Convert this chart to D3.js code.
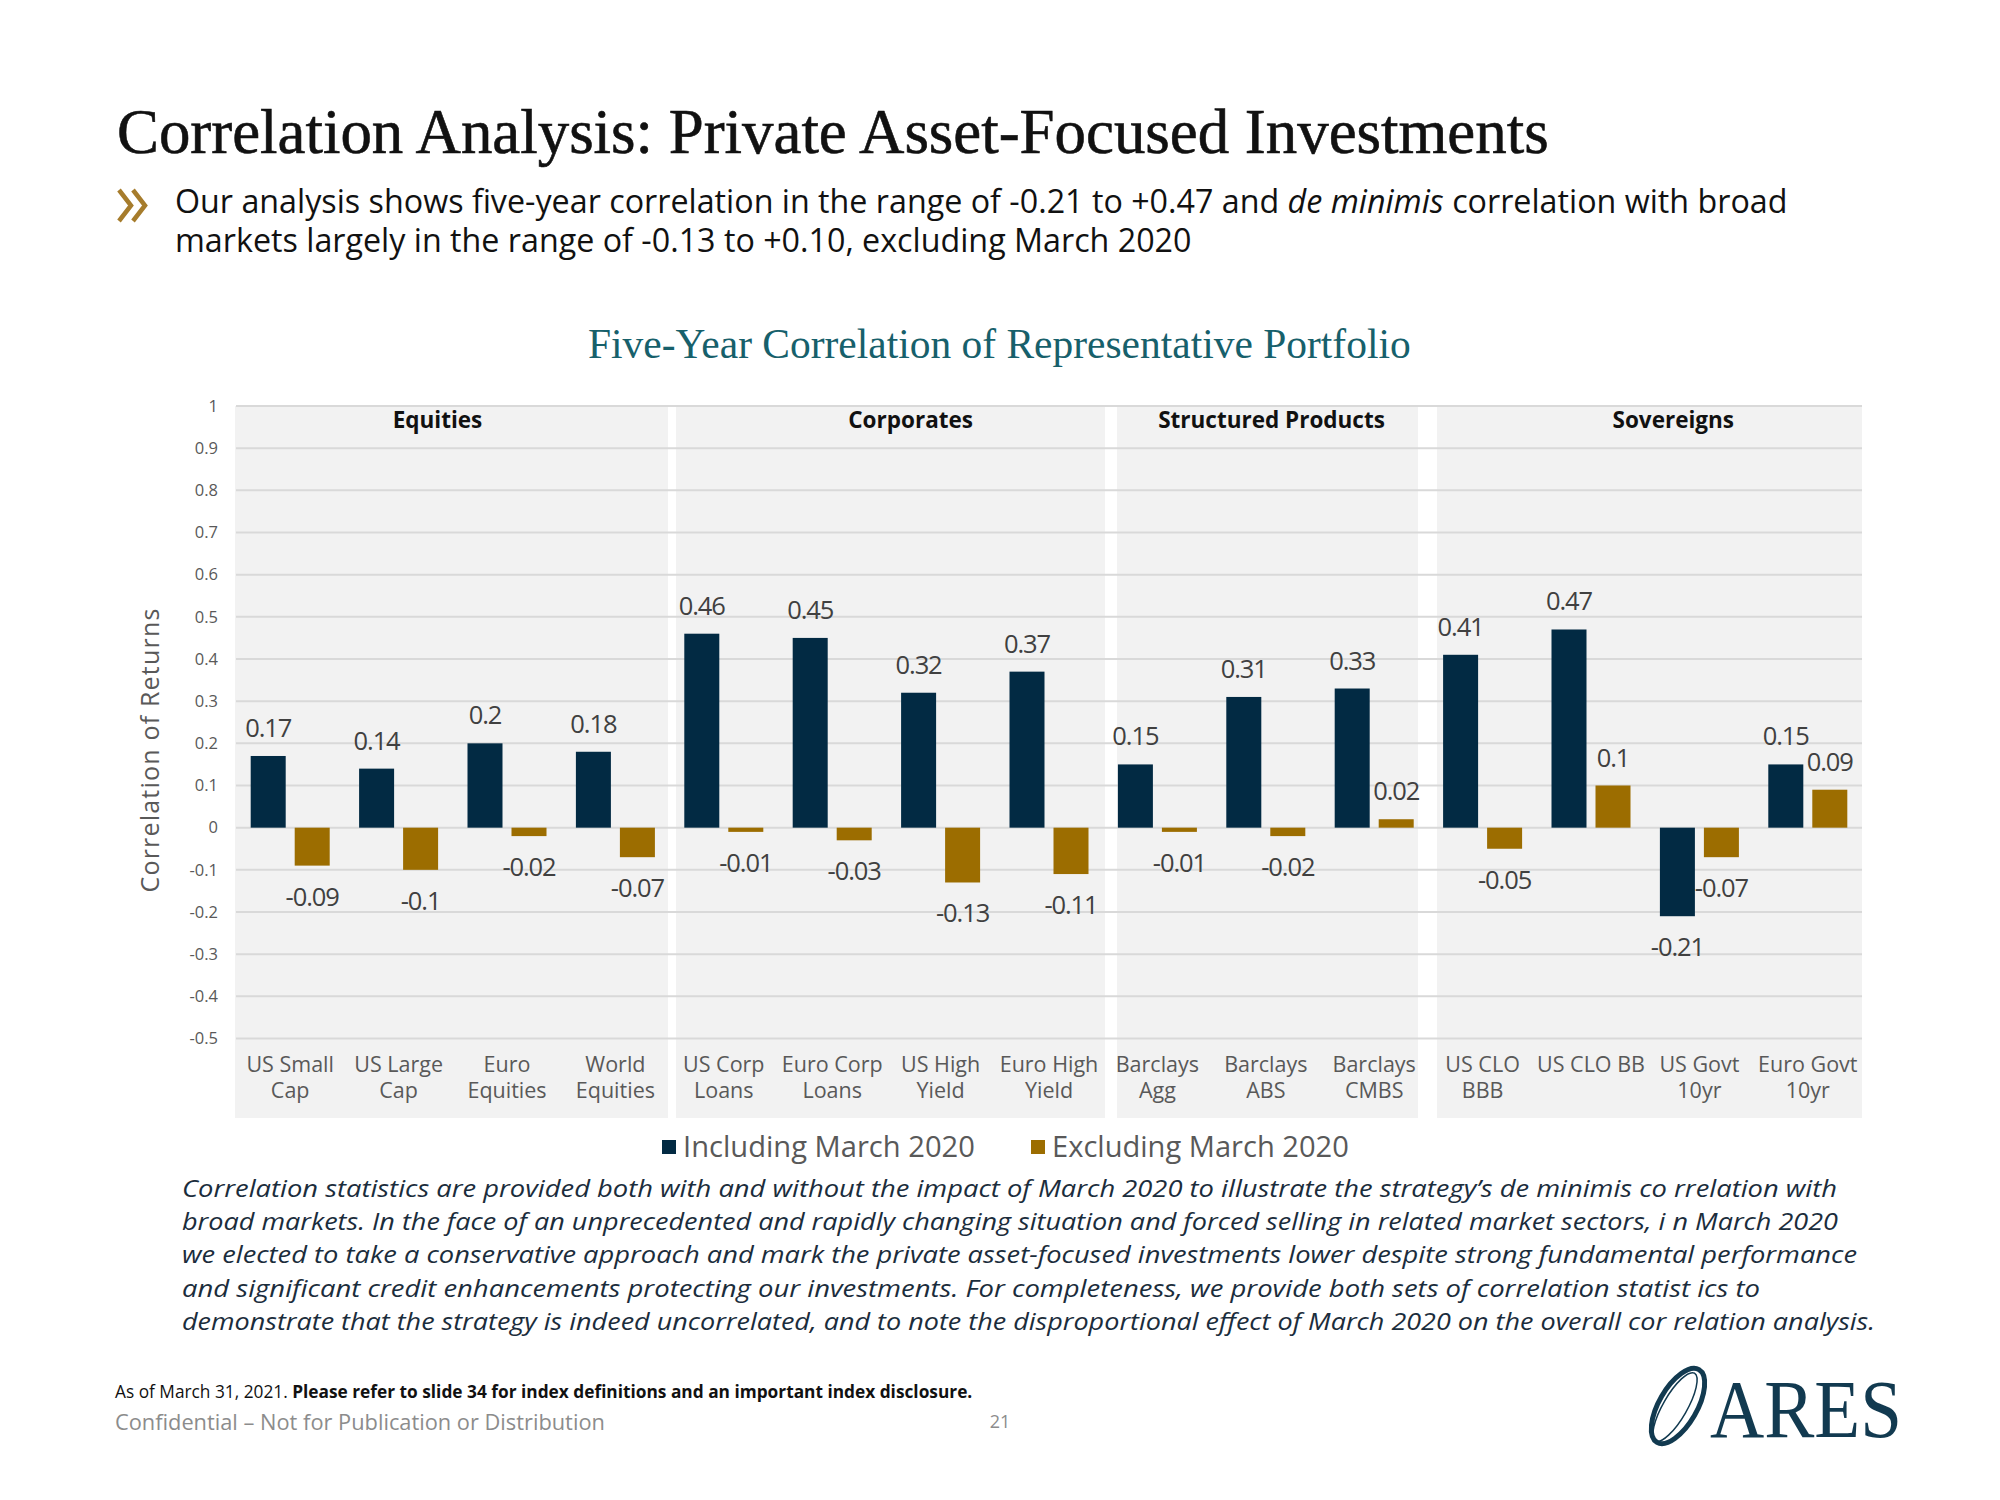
<!DOCTYPE html>
<html>
<head>
<meta charset="utf-8">
<script src="https://cdn.jsdelivr.net/npm/d3@7"></script>
<style>
  html, body { margin: 0; padding: 0; background: #ffffff; }
  svg { display: block; }
</style>
</head>
<body>
<svg id="chart" width="2000" height="1500"></svg>
<script>
// ---------------- DATA ----------------
const categories = [
  "US Small\nCap", "US Large\nCap", "Euro\nEquities", "World\nEquities",
  "US Corp\nLoans", "Euro Corp\nLoans", "US High\nYield", "Euro High\nYield",
  "Barclays\nAgg", "Barclays\nABS", "Barclays\nCMBS",
  "US CLO\nBBB", "US CLO BB", "US Govt\n10yr", "Euro Govt\n10yr"
];
const includingMarch2020 = [0.17, 0.14, 0.2, 0.18, 0.46, 0.45, 0.32, 0.37, 0.15, 0.31, 0.33, 0.41, 0.47, -0.21, 0.15];
const excludingMarch2020 = [-0.09, -0.1, -0.02, -0.07, -0.01, -0.03, -0.13, -0.11, -0.01, -0.02, 0.02, -0.05, 0.1, -0.07, 0.09];
const seriesNames = ["Including March 2020", "Excluding March 2020"];
const groupNames = ["Equities", "Corporates", "Structured Products", "Sovereigns"];
const groupSizes = [4, 4, 3, 4];
const yTicks = [-0.5, -0.4, -0.3, -0.2, -0.1, 0, 0.1, 0.2, 0.3, 0.4, 0.5, 0.6, 0.7, 0.8, 0.9, 1];

const titleText = "Correlation Analysis: Private Asset-Focused Investments";
const chartTitle = "Five-Year Correlation of Representative Portfolio";
const yAxisTitle = "Correlation of Returns";
const noteLines = [
  "Correlation statistics are provided both with and without the impact of March 2020 to illustrate the strategy\u2019s de minimis co rrelation with",
  "broad markets. In the face of an unprecedented and rapidly changing situation and forced selling in related market sectors, i n March 2020",
  "we elected to take a conservative approach and mark the private asset-focused investments lower despite strong fundamental performance",
  "and significant credit enhancements protecting our investments. For completeness, we provide both sets of correlation statist ics to",
  "demonstrate that the strategy is indeed uncorrelated, and to note the disproportional effect of March 2020 on the overall cor relation analysis."
];

// ---------------- STYLE ----------------
const NAVY = "#022a43";
const GOLD = "#9c6d00";
const GRID = "#d9d9d9";
const PANEL = "#f2f2f2";
const AXIS_TEXT = "#595959";
const LABEL_TEXT = "#404040";
const SANS = "'Open Sans', 'DejaVu Sans', sans-serif";
const SERIF = "'Liberation Serif', 'DejaVu Serif', serif";

const svg = d3.select("#chart");

function fitWidth(sel, target) {
  const node = sel.node();
  const fs = parseFloat(sel.attr("font-size"));
  const L = node.getComputedTextLength();
  const nfs = fs * target / L;
  sel.attr("font-size", nfs);
  return nfs;
}

// ---------------- HEADER ----------------
const t = svg.append("text")
  .attr("x", 117).attr("y", 153)
  .attr("font-family", SERIF).attr("font-size", 58)
  .attr("fill", "#111111")
  .attr("stroke", "#111111").attr("stroke-width", 0.6)
  .text(titleText);
fitWidth(t, 1432);

// chevrons
const chev = svg.append("g").attr("fill", "none").attr("stroke", "#a67c2c")
  .attr("stroke-width", 4.5).attr("stroke-linecap", "butt").attr("stroke-linejoin", "miter");
chev.append("path").attr("d", "M119,190 L131,205.5 L119,221");
chev.append("path").attr("d", "M133,190 L145,205.5 L133,221");

const sub1 = svg.append("text").attr("x", 175).attr("y", 213)
  .attr("font-family", SANS).attr("font-size", 30).attr("fill", "#111111");
sub1.append("tspan").text("Our analysis shows five-year correlation in the range of -0.21 to +0.47 and ");
sub1.append("tspan").attr("font-style", "italic").text("de minimis");
sub1.append("tspan").text(" correlation with broad");
const subFs = fitWidth(sub1, 1613);
svg.append("text").attr("x", 175).attr("y", 252)
  .attr("font-family", SANS).attr("font-size", subFs).attr("fill", "#111111")
  .text("markets largely in the range of -0.13 to +0.10, excluding March 2020");

const ct = svg.append("text").attr("x", 588).attr("y", 358)
  .attr("font-family", SERIF).attr("font-size", 36).attr("fill", "#17606b")
  .text(chartTitle);
fitWidth(ct, 823);

// ---------------- SCALES ----------------
const x = d3.scaleBand().domain(d3.range(categories.length)).range([236, 1862]).padding(0);
const xSub = d3.scaleBand().domain([0, 1]).range([0, x.bandwidth()])
  .paddingInner(9 / 44).paddingOuter(0.334);
const y = d3.scaleLinear().domain([-0.5, 1]).range([1038.5, 406]);

// ---------------- PANELS ----------------
const panelInsets = [[-1, -1.6], [6.4, 1.8], [13.8, -10.4], [8.6, 0]];
let start = 0;
const panelG = svg.append("g");
const groupInfo = [];
groupSizes.forEach((n, gi) => {
  const x0 = x(start) + panelInsets[gi][0];
  const x1 = x(start + n - 1) + x.bandwidth() + panelInsets[gi][1];
  panelG.append("rect")
    .attr("x", x0).attr("y", y(1))
    .attr("width", x1 - x0).attr("height", 1118 - y(1))
    .attr("fill", PANEL);
  groupInfo.push({ name: groupNames[gi], start, n });
  start += n;
});

// ---------------- GRID ----------------
svg.append("g").selectAll("line").data(yTicks).join("line")
  .attr("x1", 236).attr("x2", 1862)
  .attr("y1", d => y(d)).attr("y2", d => y(d))
  .attr("stroke", GRID).attr("stroke-width", 2);

// y axis labels
const yAxis = d3.axisLeft(y).tickValues(yTicks).tickSize(0).tickPadding(18)
  .tickFormat(d => String(d));
const yg = svg.append("g").attr("transform", "translate(236,0)").call(yAxis);
yg.select(".domain").remove();
yg.selectAll("text").attr("font-family", SANS).attr("font-size", 16.5).attr("fill", AXIS_TEXT);

// y axis title
const yt = svg.append("text")
  .attr("transform", "translate(159,750) rotate(-90)")
  .attr("text-anchor", "middle")
  .attr("font-family", SANS).attr("font-size", 25).attr("fill", AXIS_TEXT)
  .attr("letter-spacing", 1.2)
  .text(yAxisTitle);

// group labels
const groupLabelShift = [-12, 19, 4.5, 22];
svg.append("g").selectAll("text").data(groupInfo).join("text")
  .attr("x", (d, i) => (x(d.start) + x(d.start + d.n - 1) + x.bandwidth()) / 2 + groupLabelShift[i] * 1.2755)
  .attr("y", 428)
  .attr("text-anchor", "middle")
  .attr("font-family", SANS).attr("font-weight", "bold").attr("font-size", 22.5)
  .attr("fill", "#111111")
  .text(d => d.name);

// ---------------- BARS ----------------
const series = [includingMarch2020, excludingMarch2020];
const colors = [NAVY, GOLD];
const barsG = svg.append("g");
series.forEach((vals, si) => {
  barsG.append("g").selectAll("rect").data(vals).join("rect")
    .attr("x", (d, i) => x(i) + xSub(si))
    .attr("width", xSub.bandwidth())
    .attr("y", d => y(Math.max(0, d)))
    .attr("height", d => Math.abs(y(d) - y(0)))
    .attr("fill", colors[si]);
});

// value labels
series.forEach((vals, si) => {
  svg.append("g").selectAll("text").data(vals).join("text")
    .attr("x", (d, i) => x(i) + xSub(si) + xSub.bandwidth() / 2)
    .attr("y", d => d >= 0 ? y(d) - 19 : y(d) + 40)
    .attr("text-anchor", "middle")
    .attr("font-family", SANS).attr("font-size", 25.5).attr("fill", LABEL_TEXT)
    .attr("letter-spacing", -1.1)
    .text(d => String(d));
});

// category labels
const catG = svg.append("g");
categories.forEach((c, i) => {
  const lines = c.split("\n");
  const txt = catG.append("text")
    .attr("text-anchor", "middle")
    .attr("font-family", SANS).attr("font-size", 21.5).attr("fill", AXIS_TEXT);
  lines.forEach((ln, li) => {
    txt.append("tspan").attr("x", x(i) + x.bandwidth() / 2).attr("y", 1072 + li * 26).text(ln);
  });
});

// ---------------- LEGEND ----------------
const legendX = [662, 1031];
seriesNames.forEach((s, si) => {
  svg.append("rect").attr("x", legendX[si]).attr("y", 1140).attr("width", 14).attr("height", 14)
    .attr("fill", colors[si]);
  const lt = svg.append("text").attr("x", legendX[si] + 21).attr("y", 1157)
    .attr("font-family", SANS).attr("font-size", 26).attr("fill", AXIS_TEXT)
    .text(s);
  fitWidth(lt, si === 0 ? 292 : 297);
});

// ---------------- NOTE ----------------
const noteEnds = [1837, 1838, 1857, 1760, 1875];
noteLines.forEach((ln, i) => {
  svg.append("text")
    .attr("x", 182).attr("y", 1197 + i * 33.2)
    .attr("font-family", SANS).attr("font-style", "italic").attr("font-size", 23)
    .attr("fill", "#1b2d3c")
    .attr("textLength", noteEnds[i] - 182).attr("lengthAdjust", "spacingAndGlyphs")
    .text(ln);
});

// ---------------- FOOTER ----------------
const fn = svg.append("text").attr("x", 115).attr("y", 1398)
  .attr("font-family", SANS).attr("font-size", 16).attr("fill", "#111111");
fn.append("tspan").text("As of March 31, 2021. ");
fn.append("tspan").attr("font-weight", "bold").text("Please refer to slide 34 for index definitions and an important index disclosure.");
fitWidth(fn, 858);

const conf = svg.append("text").attr("x", 115).attr("y", 1430)
  .attr("font-family", SANS).attr("font-size", 19).attr("fill", "#8c8c8c")
  .text("Confidential \u2013 Not for Publication or Distribution");
fitWidth(conf, 490);

svg.append("text").attr("x", 1000).attr("y", 1428).attr("text-anchor", "middle")
  .attr("font-family", SANS).attr("font-size", 18).attr("fill", "#8c8c8c").text("21");

// logo
const logo = svg.append("g");
logo.append("ellipse").attr("cx", 0).attr("cy", 0).attr("rx", 19).attr("ry", 42)
  .attr("transform", "translate(1678,1406) rotate(30)")
  .attr("fill", "none").attr("stroke", "#123a50").attr("stroke-width", 5);
logo.append("ellipse").attr("cx", 0).attr("cy", 0).attr("rx", 12).attr("ry", 39)
  .attr("transform", "translate(1675,1407) rotate(30)")
  .attr("fill", "none").attr("stroke", "#123a50").attr("stroke-width", 1.5);
logo.append("text").attr("x", 1710).attr("y", 1437)
  .attr("font-family", SERIF).attr("font-size", 82).attr("fill", "#123a50")
  .attr("textLength", 192).attr("lengthAdjust", "spacingAndGlyphs")
  .text("ARES");
</script>
</body>
</html>
